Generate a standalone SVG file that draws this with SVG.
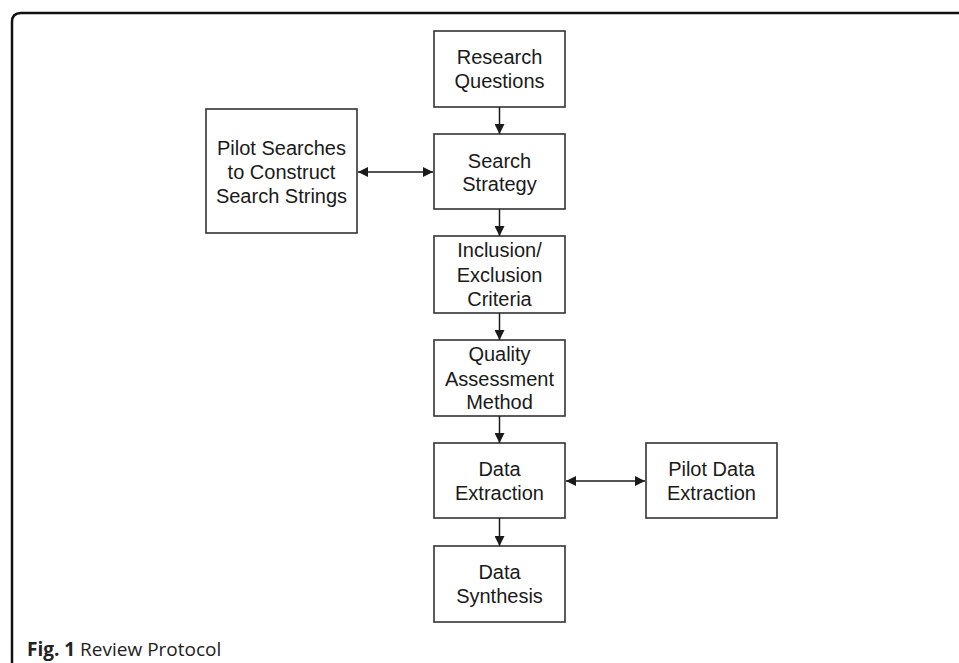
<svg xmlns="http://www.w3.org/2000/svg" width="959" height="663" viewBox="0 0 959 663">
<style>
.box{fill:#fff;stroke:#333;stroke-width:1.6}
.t{font-family:"Liberation Sans",Arial,sans-serif;font-size:20px;fill:#1a1a1a;text-anchor:middle}
.c{stroke:#1a1a1a;stroke-width:1.5;fill:none}
.cap{font-family:"Open Sans",sans-serif;font-size:19px;fill:#222}
</style>
<defs>
<marker id="ah" viewBox="0 0 10 10" refX="10" refY="5" markerWidth="11" markerHeight="10" markerUnits="userSpaceOnUse" orient="auto-start-reverse">
<path d="M0,0 L10,5 L0,10 z" fill="#1a1a1a"/>
</marker>
</defs>
<rect width="959" height="663" fill="#fff"/>
<path d="M12,663 V22 Q12,13 21,13 H959" fill="none" stroke="#111" stroke-width="2.5"/>
<g id="n-research">
<rect class="box" x="434" y="31" width="131" height="76"/>
<text class="t" x="499.5" y="64">Research</text>
<text class="t" x="499.5" y="88">Questions</text>
</g>
<g id="n-search">
<rect class="box" x="434" y="134" width="131" height="75"/>
<text class="t" x="499.5" y="168">Search</text>
<text class="t" x="499.5" y="191">Strategy</text>
</g>
<g id="n-pilot-search">
<rect class="box" x="206" y="109" width="151" height="124"/>
<text class="t" x="281.5" y="155">Pilot Searches</text>
<text class="t" x="281.5" y="179">to Construct</text>
<text class="t" x="281.5" y="203">Search Strings</text>
</g>
<g id="n-inclusion">
<rect class="box" x="434" y="236" width="131" height="77"/>
<text class="t" x="499.5" y="257">Inclusion/</text>
<text class="t" x="499.5" y="282">Exclusion</text>
<text class="t" x="499.5" y="306">Criteria</text>
</g>
<g id="n-quality">
<rect class="box" x="434" y="340" width="131" height="76"/>
<text class="t" x="499.5" y="361">Quality</text>
<text class="t" x="499.5" y="386">Assessment</text>
<text class="t" x="499.5" y="409">Method</text>
</g>
<g id="n-extraction">
<rect class="box" x="434" y="443" width="131" height="75"/>
<text class="t" x="499.5" y="476">Data</text>
<text class="t" x="499.5" y="500">Extraction</text>
</g>
<g id="n-pilot-data">
<rect class="box" x="646" y="443" width="131" height="75"/>
<text class="t" x="711.5" y="476">Pilot Data</text>
<text class="t" x="711.5" y="500">Extraction</text>
</g>
<g id="n-synthesis">
<rect class="box" x="434" y="546" width="131" height="76"/>
<text class="t" x="499.5" y="579">Data</text>
<text class="t" x="499.5" y="603">Synthesis</text>
</g>
<g id="connectors">
<line class="c" x1="499.5" y1="107" x2="499.5" y2="134" marker-end="url(#ah)"/>
<line class="c" x1="499.5" y1="209" x2="499.5" y2="236" marker-end="url(#ah)"/>
<line class="c" x1="499.5" y1="313" x2="499.5" y2="340" marker-end="url(#ah)"/>
<line class="c" x1="499.5" y1="416" x2="499.5" y2="443" marker-end="url(#ah)"/>
<line class="c" x1="499.5" y1="518" x2="499.5" y2="546" marker-end="url(#ah)"/>
<line class="c" x1="358" y1="172" x2="433" y2="172" marker-start="url(#ah)" marker-end="url(#ah)"/>
<line class="c" x1="566" y1="481" x2="645" y2="481" marker-start="url(#ah)" marker-end="url(#ah)"/>
</g>
<text class="cap" x="27" y="656"><tspan font-weight="bold">Fig. 1</tspan> Review Protocol</text>
</svg>
